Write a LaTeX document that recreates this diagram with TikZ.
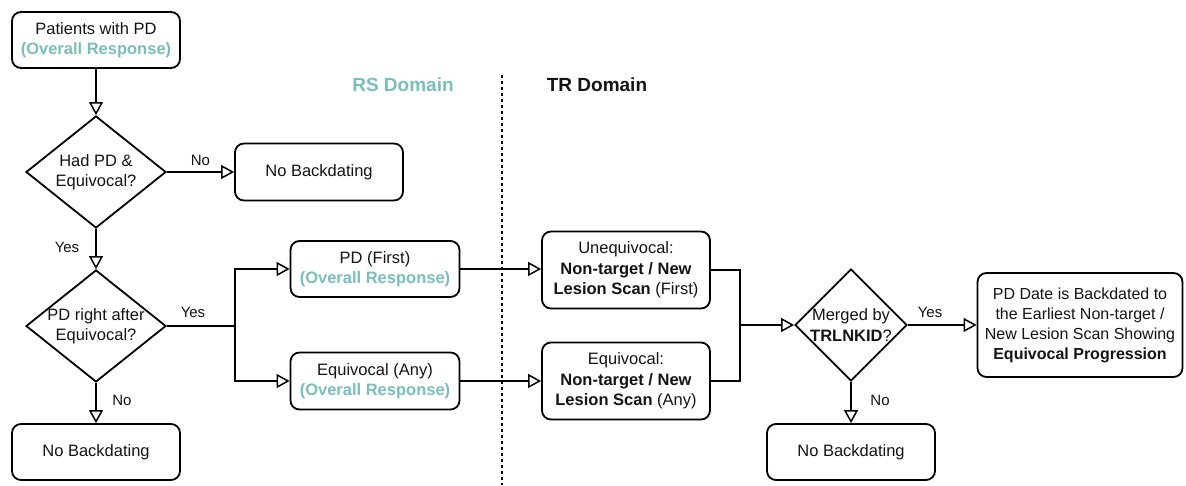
\documentclass[tikz,border=0pt]{standalone}
\usepackage{fontspec}
\setmainfont{Liberation Sans}
\usetikzlibrary{shapes.geometric,arrows.meta}
\definecolor{teal2}{RGB}{122,190,188}
\definecolor{txt}{RGB}{20,20,20}
\begin{document}
\begin{tikzpicture}[x=1pt,y=-1pt,
  every node/.style={font=\fontsize{16.5}{20.5}\selectfont, text=txt, align=center},
  box/.style={draw, line width=1.8pt, rounded corners=9pt, align=center, inner sep=1pt},
  dia/.style={draw, diamond, line width=1.8pt, align=center, inner sep=0pt, aspect=1.25},
  conn/.style={line width=1.6pt, -{Triangle[open, length=13pt, width=14pt, line width=1.5pt]}},
  line/.style={line width=1.6pt},
  lbl/.style={font=\fontsize{15}{17}\selectfont}]
\useasboundingbox (0,0) rectangle (1186,485);
\fill[white] (0,0) rectangle (1186,485);
\newcommand{\ov}{\textcolor{teal2}{\textbf{(Overall Response)}}}

\node[box, minimum width=168pt, minimum height=56pt] (start) at (96,40) {Patients with PD\\\ov};
\node[dia, minimum width=140pt, minimum height=112pt] (d1) at (96,172) {};
\node at (96,172) {Had PD \&\\Equivocal?};
\node[box, minimum width=168pt, minimum height=57pt] (nb1) at (319,172) {No Backdating};
\node[dia, minimum width=140pt, minimum height=112pt] (d2) at (96,326) {};
\node at (96,326) {PD right after\\Equivocal?};
\node[box, minimum width=168pt, minimum height=56pt] (nb2) at (96,452) {No Backdating};
\node[box, minimum width=169pt, minimum height=56pt] (pdf) at (375,269) {PD (First)\\\ov};
\node[box, minimum width=169pt, minimum height=57pt] (eqa) at (375,381) {Equivocal (Any)\\\ov};
\node[box, minimum width=168pt, minimum height=77pt] (uneq) at (626,270) {Unequivocal:\\\textbf{Non-target / New}\\\textbf{Lesion Scan} (First)};
\node[box, minimum width=168pt, minimum height=77pt] (eq) at (626,381) {Equivocal:\\\textbf{Non-target / New}\\\textbf{Lesion Scan} (Any)};
\node[dia, minimum width=112pt, minimum height=112pt] (d3) at (851,325) {};
\node at (851,325) {Merged by\\\textbf{TRLNKID}?};
\node[box, minimum width=205pt, minimum height=104pt, inner sep=0pt, font=\fontsize{16}{20}\selectfont] (fin) at (1080,325) {PD Date is Backdated to\\the Earliest Non-target /\\New Lesion Scan Showing\\\textbf{Equivocal Progression}};
\node[box, minimum width=168pt, minimum height=56pt] (nb3) at (851,452) {No Backdating};

\node[font=\fontsize{19}{22}\selectfont\bfseries, text=teal2] (rs) at (403,85) {RS Domain};
\node[font=\fontsize{19}{22}\selectfont\bfseries] (tr) at (597,85) {TR Domain};
\coordinate (dtop) at (502,75);
\coordinate (dbot) at (502,485);
\draw[line width=1.4pt, dash pattern=on 3pt off 3pt] (dtop) -- (dbot);

\draw[conn] (start) -- (d1);
\draw[conn] (d1) -- node[lbl, above, pos=0.5, yshift=2pt] {No} (nb1);
\draw[conn] (d1) -- (d2);
\node[lbl] at (67,247) {Yes};
\coordinate (j1) at (235,326);
\draw[line] (d2.east) -- (j1);
\node[lbl] at (193,312) {Yes};
\draw[conn] (j1) |- (pdf.west);
\draw[conn] (j1) |- (eqa.west);
\draw[conn] (d2) -- (nb2);
\node[lbl] at (122,400) {No};
\draw[conn] (pdf.east) -- (pdf.east -| uneq.west);
\draw[conn] (eqa.east) -- (eqa.east -| eq.west);
\coordinate (j2) at (740,325);
\draw[line] (uneq.east) -| (j2);
\draw[line] (eq.east) -| (j2);
\draw[conn] (j2) -- (d3.west);
\draw[conn] (d3.east) -- (fin.west);
\node[lbl] at (930,312) {Yes};
\draw[conn] (d3.south) -- (nb3.north);
\node[lbl] at (880,400) {No};
\end{tikzpicture}
\end{document}
